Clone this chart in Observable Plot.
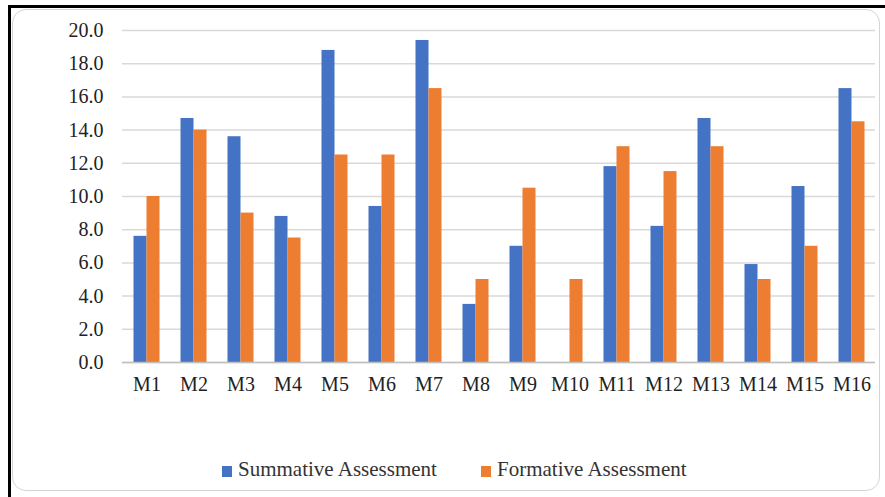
<!DOCTYPE html>
<html>
<head>
<meta charset="utf-8">
<script src="https://cdn.jsdelivr.net/npm/d3@7"></script>
<script src="https://cdn.jsdelivr.net/npm/@observablehq/plot@0.6"></script>
<style>
  html, body { margin: 0; padding: 0; background: #fff; }
  #wrap { position: relative; width: 885px; height: 497px; overflow: hidden; background: #fff; }
  #outer { position: absolute; left: 8px; top: 5px; width: 890px; height: 500px; border-left: 3px solid #000; border-top: 3px solid #000; }
  #inner { position: absolute; left: 12px; top: 9px; width: 866px; height: 480px; border: 1px solid #d4d4d4; border-radius: 14px; }
  #chart { position: absolute; left: 0; top: 0; }
  #chart svg text { font-family: 'Liberation Serif', 'DejaVu Serif', serif !important; }
  #legend { position: absolute; left: 0; top: 456px; width: 885px; font-family: 'Liberation Serif', 'DejaVu Serif', serif; font-size: 21px; color: #333; }
  .item { position: absolute; top: 0; white-space: nowrap; }
  .sw { position: absolute; top: 10px; width: 10px; height: 11px; }
  .lbl { position: absolute; left: 16px; top: 0; line-height: 26px; }
</style>
</head>
<body>
<div id="wrap">
  <div id="outer"></div>
  <div id="inner"></div>
  <div id="chart"></div>
  <div id="legend"></div>
</div>
<script>
const categories = ["M1","M2","M3","M4","M5","M6","M7","M8","M9","M10","M11","M12","M13","M14","M15","M16"];
const seriesNames = ["Summative Assessment", "Formative Assessment"];
const summative = [7.6, 14.7, 13.6, 8.8, 18.8, 9.4, 19.4, 3.5, 7.0, 0.0, 11.8, 8.2, 14.7, 5.9, 10.6, 16.5];
const formative = [10.0, 14.0, 9.0, 7.5, 12.5, 12.5, 16.5, 5.0, 10.5, 5.0, 13.0, 11.5, 13.0, 5.0, 7.0, 14.5];
const yTicks = [0, 2, 4, 6, 8, 10, 12, 14, 16, 18, 20];
const colors = ["#4472C4", "#ED7D31"];

const sumData = categories.map((c, i) => ({cat: c, value: summative[i]}));
const forData = categories.map((c, i) => ({cat: c, value: formative[i]}));

const W = 885, H = 410;
const plot = Plot.plot({
  width: W,
  height: H,
  marginLeft: 122,
  marginRight: 10,
  marginTop: 30,
  marginBottom: 48,
  style: {fontFamily: "'Liberation Serif', 'DejaVu Serif', serif", background: "transparent", color: "#222"},
  x: {type: "band", domain: categories, paddingInner: 0.724, paddingOuter: 0.362, label: null},
  y: {domain: [0, 20], label: null},
  marks: [
    Plot.gridY(yTicks, {stroke: "#d9d9d9", strokeOpacity: 1, strokeWidth: 1.5}),
    Plot.barY(sumData, {x: "cat", y: "value", fill: colors[0], dx: -6.5}),
    Plot.barY(forData, {x: "cat", y: "value", fill: colors[1], dx: 6.5}),
    Plot.ruleY([0], {stroke: "#bfbfbf", strokeWidth: 1.5}),
    Plot.ruleX([0], {frameAnchor: "left", stroke: "#bfbfbf", strokeWidth: 1.5}),
    Plot.axisY(yTicks, {tickSize: 0, tickPadding: 19, tickFormat: d => d.toFixed(1), fontSize: 20, fill: "#222"}),
    Plot.axisX({tickSize: 0, tickPadding: 14, fontSize: 20, fill: "#222"})
  ]
});
document.getElementById("chart").appendChild(plot);

const legend = document.getElementById("legend");
const lefts = [222, 481];
seriesNames.forEach((name, i) => {
  const it = document.createElement("div");
  it.className = "item";
  it.style.left = lefts[i] + "px";
  it.innerHTML = `<span class="sw" style="background:${colors[i]}"></span><span class="lbl">${name}</span>`;
  legend.appendChild(it);
});
</script>
</body>
</html>
